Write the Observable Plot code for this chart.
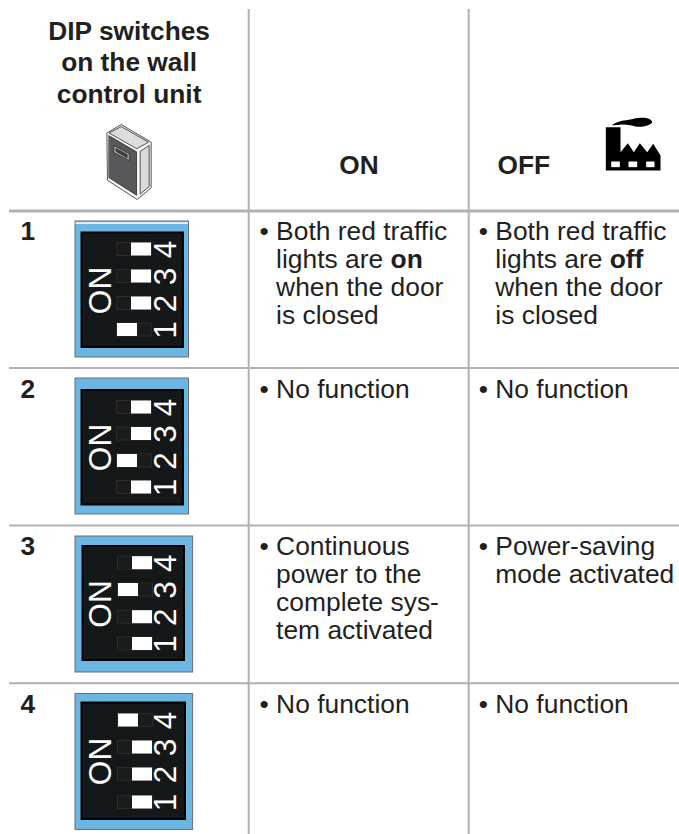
<!DOCTYPE html>
<html><head><meta charset="utf-8">
<script src="https://cdn.jsdelivr.net/npm/d3@7"></script>
<script src="https://cdn.jsdelivr.net/npm/@observablehq/plot@0.6"></script>
<style>html,body{margin:0;padding:0;background:#fff}svg{display:block}</style>
</head><body><div id="chart"></div>
<script>
// ---- content
const headerLines = ["DIP switches", "on the wall", "control unit"];
const columnHeads = ["ON", "OFF"];
const rowNumbers = ["1", "2", "3", "4"];
const switchNumbers = ["1", "2", "3", "4"];
const switchAtOn = [1, 2, 3, 4];      // in row i, the switch that sits at the ON side
const onTexts = [
  [["Both red traffic"], ["lights are ", "on"], ["when the door"], ["is closed"]],
  [["No function"]],
  [["Continuous"], ["power to the"], ["complete sys-"], ["tem activated"]],
  [["No function"]]
];
const offTexts = [
  [["Both red traffic"], ["lights are ", "off"], ["when the door"], ["is closed"]],
  [["No function"]],
  [["Power-saving"], ["mode activated"]],
  [["No function"]]
];

// ---- layout
const W = 679, H = 834;
const FONT = "'Liberation Sans', Arial, sans-serif";
const INK = "#231f20", GRID = "#b1b1b3";
const rowRules = [210.5, 367.6, 525, 682.8];
const colRules = [248.2, 468.2];
const rowBase = [239.5, 397, 554.5, 712.5];
const panels = [
  {x1:75, x2:188.5, y1:221, y2:357, ix1:81.5, ix2:183, iy1:232.5, iy2:347, on:117, off:131, tx1:116.7, tx2:151.5, ys:[329.5,303,276,249], onY:290},
  {x1:75, x2:188.5, y1:378, y2:514, ix1:81.5, ix2:183, iy1:390, iy2:504.5, on:117, off:131, tx1:116.5, tx2:151.5, ys:[487,460.5,433.5,407], onY:447},
  {x1:75, x2:192.6, y1:536, y2:672, ix1:82.5, ix2:184, iy1:546, iy2:660, on:118, off:132, tx1:117.5, tx2:152.5, ys:[643.5,616.7,589.5,562.7], onY:603.5},
  {x1:75, x2:192.6, y1:693.5, y2:829.5, ix1:81.5, ix2:185, iy1:702.5, iy2:819, on:118, off:132, tx1:117.5, tx2:153, ys:[802,774,747,720], onY:761}
];
const switchW = 20, switchH = 13;

const tableTexts = [];
const ctx = document.createElement("canvas").getContext("2d");
const BODY = 26.4;
function addCell(lines, x, base) {
  tableTexts.push({x: x - 16.5, y: base, t: "•"});
  lines.forEach((runs, l) => {
    let cx = x;
    runs.forEach((t, k) => {
      const bold = k === 1;
      tableTexts.push({x: cx, y: base + l * 27.9, t, bold});
      ctx.font = `${bold ? "bold " : ""}${BODY}px ${FONT}`;
      cx += ctx.measureText(t).width;
    });
  });
}
onTexts.forEach((c, r) => addCell(c, 275.6, rowBase[r]));
offTexts.forEach((c, r) => addCell(c, 494.8, rowBase[r]));

const tracks = [], whites = [], digits = [];
panels.forEach((p, r) => {
  p.ys.forEach((y, i) => {
    tracks.push({x1: p.tx1, x2: p.tx2, y1: y - 6.5, y2: y + 6.5});
    const s = switchAtOn[r] === i + 1 ? p.on : p.off;
    whites.push({x1: s, x2: s + switchW, y1: y - switchH / 2, y2: y + switchH / 2});
    digits.push({x: 165.6, y, t: switchNumbers[i]});
  });
});

// ---- icons, as outlines in the frame of the picture
const pt = (ox, oy) => ([x, y]) => ({x: ox + x / 3, y: oy + y / 3});
const poly = (id, fill, pts, ox, oy) => pts.map(pt(ox, oy)).map(d => ({...d, id, fill}));
const unit = [
  ...poly("box", "#f6f6f6", [[80,97],[122,72],[212,125],[212,262],[170,297],[82,240]], 80, 100),
  ...poly("top", "#dcdddf", [[87,97],[122,78],[204,125],[170,144]], 80, 100),
  ...poly("front", "#58585a", [[86,106],[168,154],[168,284],[86,232]], 80, 100),
  ...poly("side", "#d9dadc", [[180,152],[206,135],[206,258],[180,280]], 80, 100),
  ...poly("label", "#c4c5c7", [[101,136],[146,160],[146,180],[101,156]], 80, 100),
  ...poly("label2", "#3f3f41", [[107,144],[140,162],[140,172],[107,153]], 80, 100)
];
const plant = [
  ...poly("body", "#000", [[46,80],[90,80],[90,155],[112,128],[130,155],[148,128],[170,155],[188,130],[210,165],[210,210],[46,210]], 590, 100),
  ...poly("w1", "#fff", [[62,183],[88,183],[88,200],[62,200]], 590, 100),
  ...poly("w2", "#fff", [[114,183],[140,183],[140,200],[114,200]], 590, 100),
  ...poly("w3", "#fff", [[167,183],[192,183],[192,200],[167,200]], 590, 100)
];
const smoke = poly("smoke", "#000", [[65,74],[85,64],[115,58],[150,52],[178,56],[185,65],[170,75],[145,79],[120,74],[95,72]], 590, 100);

const head = {fontFamily: FONT, fill: INK, fontWeight: "bold", fontSize: 26.3};
const bodyStyle = {x: "x", y: "y", text: "t", textAnchor: "start", lineAnchor: "bottom", fontFamily: FONT, fill: INK, fontSize: BODY};

const chart = Plot.plot({
  width: W, height: H, margin: 0,
  x: {domain: [0, W], range: [0, W], axis: null},
  y: {domain: [0, H], range: [0, H], axis: null},
  style: {background: "#fff", maxWidth: "none"},
  marks: [
    Plot.ruleX(colRules, {x: d => d, y1: 9, y2: H, stroke: GRID, strokeWidth: 2}),
    Plot.ruleY(rowRules.slice(1), {y: d => d, x1: 9, x2: W, stroke: GRID, strokeWidth: 2}),
    Plot.ruleY(rowRules.slice(0, 1), {y: d => d, x1: 9, x2: W, stroke: GRID, strokeWidth: 3}),

    Plot.text(headerLines, {x: 128.6, y: (d, i) => 39 + i * 31.9, text: d => d, textAnchor: "middle", lineAnchor: "bottom", ...head}),
    Plot.text(columnHeads, {x: [358.5, 523.3], y: 173, text: d => d, textAnchor: "middle", lineAnchor: "bottom", ...head}),
    Plot.text(rowNumbers, {x: 20, y: (d, i) => rowBase[i], text: d => d, textAnchor: "start", lineAnchor: "bottom", ...head}),

    Plot.text(tableTexts.filter(d => !d.bold), bodyStyle),
    Plot.text(tableTexts.filter(d => d.bold), {...bodyStyle, fontWeight: "bold"}),

    Plot.rect(panels, {x1: "x1", x2: "x2", y1: "y1", y2: "y2", fill: "#6cb6e4", stroke: "#6d6e71", strokeWidth: 1}),
    Plot.ruleY(panels.slice(0, 1), {y: d => d.y1 + 1.5, x1: d => d.x1 + 0.5, x2: d => d.x2 - 0.5, stroke: "#fff", strokeWidth: 1.5}),
    Plot.rect(panels, {x1: "ix1", x2: "ix2", y1: "iy1", y2: "iy2", fill: "#151819", stroke: "#000", strokeWidth: 2}),
    Plot.rect(tracks, {x1: "x1", x2: "x2", y1: "y1", y2: "y2", fill: "#191b1c", stroke: "#2e2a2b", strokeWidth: 1}),
    Plot.rect(whites, {x1: "x1", x2: "x2", y1: "y1", y2: "y2", fill: "#fff"}),
    Plot.text(panels, {x: 100.2, y: "onY", text: () => "ON", rotate: -90, textAnchor: "middle", lineAnchor: "middle", fontFamily: FONT, fontSize: 31.5, fill: "#fff"}),
    Plot.text(digits, {x: "x", y: "y", text: "t", rotate: -90, textAnchor: "middle", lineAnchor: "middle", fontFamily: FONT, fontSize: 31.5, fill: "#fff"}),

    Plot.line(unit, {x: "x", y: "y", z: "id", fill: "fill", stroke: "#2a2a2a", strokeWidth: 0.8, curve: "linear-closed"}),
    Plot.line(plant, {x: "x", y: "y", z: "id", fill: "fill", stroke: "none", curve: "linear-closed"}),
    Plot.line(smoke, {x: "x", y: "y", z: "id", fill: "fill", stroke: "none", curve: "catmull-rom-closed"})
  ]
});
document.getElementById("chart").append(chart);
</script></body></html>
